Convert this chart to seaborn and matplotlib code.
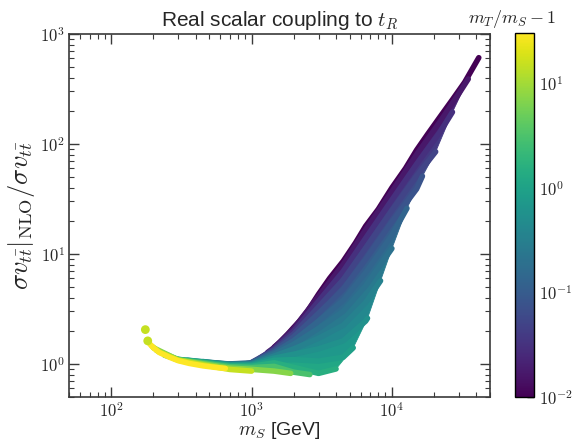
import numpy as np
import pandas as pd
import matplotlib
matplotlib.use("Agg")
import matplotlib.pyplot as plt
import seaborn as sns
from matplotlib.colors import LogNorm
from matplotlib.ticker import LogLocator, FuncFormatter, NullFormatter
import matplotlib.cm as cm

# ---- data: one curve per value of r = m_T/m_S - 1 ----
r_values = [0.01, 0.017, 0.03, 0.05, 0.08, 0.13, 0.2, 0.33, 0.55, 0.9, 1.5, 3, 7, 15, 30]

ms_r001 = [1450, 1600, 1800, 2000, 2200, 2500, 3000, 3600, 4500, 5500, 6500, 8000, 10000, 12500, 15000, 18000, 22000, 27000, 33000, 41600]
sv_r001 = [1.42, 1.58, 1.85, 2.15, 2.45, 3.0, 4.3, 6.0, 8.6, 12.6, 17.9, 25.5, 40, 60, 88, 123, 176, 253, 364, 609]
ms_r0017 = [1300, 1450, 2000, 3000, 4500, 6500, 10000, 15000, 22000, 30000, 35000]
sv_r0017 = [1.27, 1.41, 2.10, 4.11, 8.05, 16.6, 36.9, 80.2, 159, 287, 390]
ms_r003 = [1150, 1450, 2000, 3000, 4500, 6500, 10000, 15000, 22000, 27000]
sv_r003 = [1.13, 1.38, 2.00, 3.72, 6.96, 13.9, 31.0, 65.6, 128, 195]
ms_r005 = [1000, 1450, 2000, 3000, 4500, 6500, 10000, 15000, 20500]
sv_r005 = [1.03, 1.345, 1.88, 3.30, 5.83, 11.3, 24.9, 51.3, 85]
ms_r008 = [850, 1000, 1450, 2000, 3000, 4500, 6500, 10000, 15000, 16500]
sv_r008 = [0.985, 1.027, 1.31, 1.77, 2.88, 4.79, 8.93, 19.6, 39, 51]
ms_r013 = [700, 1000, 1450, 2000, 3000, 4500, 6500, 10000, 12800]
sv_r013 = [1.0, 1.019, 1.27, 1.63, 2.45, 3.79, 6.76, 14.8, 26]
ms_r02 = [560, 700, 1000, 1450, 2000, 3000, 4500, 6500, 10000]
sv_r02 = [1.02, 0.9975, 1.011, 1.23, 1.51, 2.10, 3.01, 5.13, 11.2]
ms_r033 = [450, 700, 1000, 1450, 2000, 3000, 4500, 6500, 8300]
sv_r033 = [1.05, 0.991, 0.999, 1.18, 1.37, 1.71, 2.24, 3.61, 5.7]
ms_r055 = [350, 450, 700, 1000, 1450, 2000, 3000, 4500, 6500, 6700]
sv_r055 = [1.08, 1.047, 0.983, 0.984, 1.13, 1.225, 1.37, 1.62, 2.45, 2.6]
ms_r09 = [280, 300, 450, 700, 1000, 1450, 2000, 3000, 4500, 5300]
sv_r09 = [1.12, 1.10, 1.041, 0.973, 0.969, 1.078, 1.093, 1.06, 1.15, 1.4]
ms_r15 = [240, 300, 450, 700, 1000, 1450, 2000, 3000, 4000]
sv_r15 = [1.2, 1.098, 1.034, 0.960, 0.952, 1.023, 0.93, 0.82, 0.90]
ms_r3 = [210, 300, 450, 700, 1000, 1450, 2000, 2600]
sv_r3 = [1.33, 1.094, 1.020, 0.942, 0.926, 0.949, 0.84, 0.80]
ms_r7 = [200, 300, 450, 700, 1000, 1450, 1900]
sv_r7 = [1.40, 1.088, 1.001, 0.916, 0.892, 0.86, 0.82]
ms_r15b = [195, 220, 300, 450, 700, 1000]
sv_r15b = [1.45, 1.28, 1.08, 0.980, 0.89, 0.86]
ms_r30 = [188, 200, 220, 260, 300, 360, 450, 550, 650]
sv_r30 = [1.52, 1.40, 1.27, 1.15, 1.07, 1.01, 0.96, 0.93, 0.91]

dot_ms = [175, 182]
dot_sv = [2.05, 1.62]
dot_r = [15, 15]

curve_ms = [ms_r001, ms_r0017, ms_r003, ms_r005, ms_r008, ms_r013, ms_r02, ms_r033,
            ms_r055, ms_r09, ms_r15, ms_r3, ms_r7, ms_r15b, ms_r30]
curve_sv = [sv_r001, sv_r0017, sv_r003, sv_r005, sv_r008, sv_r013, sv_r02, sv_r033,
            sv_r055, sv_r09, sv_r15, sv_r3, sv_r7, sv_r15b, sv_r30]

df = pd.concat([pd.DataFrame({"m": m, "y": y, "r": r})
                for r, m, y in zip(r_values, curve_ms, curve_sv)], ignore_index=True)

# ---- style ----
sns.set_theme(style="ticks")
plt.rcParams.update({
    "font.family": ["Liberation Sans", "DejaVu Sans"],
    "mathtext.fontset": "cm",
    "axes.edgecolor": "#3a3a3a",
    "axes.linewidth": 1.2,
})

cmap = plt.get_cmap("viridis")
norm = LogNorm(vmin=0.01, vmax=30)
fig = plt.figure(figsize=(5.83, 4.40), dpi=100)
ax = fig.add_axes([69 / 583, 1 - 397 / 440, 421 / 583, 363 / 440])
cax = fig.add_axes([515 / 583, 1 - 397 / 440, 19 / 583, 364 / 440])

ax.set_xscale("log")
ax.set_yscale("log")

# the region between neighbouring curves, coloured by the mean ratio
for i in range(len(r_values) - 1):
    pm = list(curve_ms[i]) + list(curve_ms[i + 1])[::-1]
    py = list(curve_sv[i]) + list(curve_sv[i + 1])[::-1]
    rc = np.sqrt(r_values[i] * r_values[i + 1])
    ax.fill(pm, py, color=cmap(norm(rc)), lw=0.6, ec=cmap(norm(rc)), zorder=1)

sns.lineplot(data=df, x="m", y="y", hue="r", palette="viridis", hue_norm=norm,
             estimator=None, sort=False, legend=False, linewidth=4.0,
             solid_capstyle="round", solid_joinstyle="round", ax=ax, zorder=2)
sns.scatterplot(x=dot_ms, y=dot_sv, hue=dot_r, palette="viridis", hue_norm=norm,
                s=40, linewidth=0, legend=False, ax=ax, zorder=3)

ax.set_xlim(50, 5e4)
ax.set_ylim(0.5, 1000)

fmt = FuncFormatter(lambda v, p: r"$10^{%d}$" % int(round(np.log10(v))))
for axis in (ax.xaxis, ax.yaxis):
    axis.set_major_locator(LogLocator(base=10))
    axis.set_minor_locator(LogLocator(base=10, subs=np.arange(2, 10)))
    axis.set_major_formatter(fmt)
    axis.set_minor_formatter(NullFormatter())
ax.tick_params(which="both", direction="in", top=True, right=True, color="#3a3a3a",
               labelsize=12, pad=3)
ax.tick_params(which="major", length=7, width=1)
ax.tick_params(which="minor", length=3.5, width=0.8)

ax.set_title(r"Real scalar coupling to $t_R$", fontsize=15, pad=6)
ax.set_xlabel(r"$m_S$ [GeV]", fontsize=14, labelpad=0)
ax.set_ylabel(r"$\sigma v_{t\bar t}|_{\rm NLO}/\sigma v_{t\bar t}$", fontsize=19, labelpad=2)

sm = cm.ScalarMappable(norm=norm, cmap="viridis")
cb = fig.colorbar(sm, cax=cax)
cb.outline.set_edgecolor("black")
cb.outline.set_linewidth(1.0)
cax.yaxis.set_major_locator(LogLocator(base=10))
cax.yaxis.set_minor_locator(LogLocator(base=10, subs=np.arange(2, 10)))
cax.yaxis.set_major_formatter(fmt)
cax.yaxis.set_minor_formatter(NullFormatter())
cax.tick_params(which="both", direction="in", right=True, color="black", labelsize=12)
cax.tick_params(which="major", length=5, width=1)
cax.tick_params(which="minor", length=3, width=0.8)
cax.set_title(r"$m_T/m_S - 1$", fontsize=13, pad=7, x=-0.15)

fig.savefig("out.png", dpi=100)
